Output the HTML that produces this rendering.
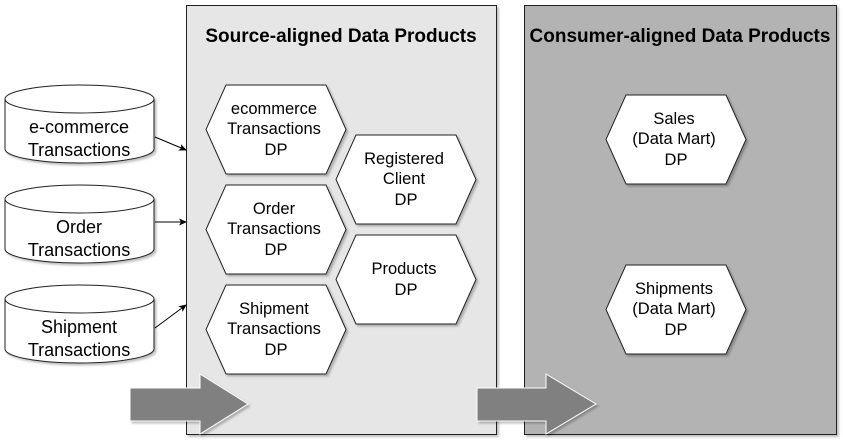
<!DOCTYPE html>
<html><head><meta charset="utf-8"><style>body{margin:0;background:#fff}</style></head><body>
<svg width="843" height="442" viewBox="0 0 843 442" xmlns="http://www.w3.org/2000/svg" font-family="Liberation Sans, sans-serif">
<defs>
<marker id="a" markerWidth="8" markerHeight="8" refX="7" refY="4" orient="auto" markerUnits="userSpaceOnUse"><path d="M0,0.5 L8,4 L0,7.5 L2,4z" fill="#000"/></marker>
<filter id="s" x="-10%" y="-10%" width="130%" height="130%"><feDropShadow dx="2" dy="2" stdDeviation="1" flood-opacity="0.25"/></filter>
</defs>
<rect x="186.5" y="5.5" width="310" height="429" fill="#e6e6e6" stroke="#222" filter="url(#s)"/>
<rect x="524.5" y="5.5" width="312" height="429" fill="#b3b3b3" stroke="#222" filter="url(#s)"/>
<text x="341" y="42" text-anchor="middle" font-size="19" font-weight="bold">Source-aligned Data Products</text>
<text x="680" y="42" text-anchor="middle" font-size="19" font-weight="bold">Consumer-aligned Data Products</text>
<g fill="#fff" stroke="#222" filter="url(#s)">
<path d="M5,99 L5,149 A74.5,14 0 0 0 154,149 L154,99 A74.5,14 0 0 0 5,99 A74.5,14 0 0 0 154,99"/>
<path d="M5,199 L5,249 A74.5,14 0 0 0 154,249 L154,199 A74.5,14 0 0 0 5,199 A74.5,14 0 0 0 154,199"/>
<path d="M5,299 L5,349 A74.5,14 0 0 0 154,349 L154,299 A74.5,14 0 0 0 5,299 A74.5,14 0 0 0 154,299"/>
<polygon points="226,85 326,85 346,129.5 326,174 226,174 206,129.5"/>
<polygon points="226,185 326,185 346,229.5 326,274 226,274 206,229.5"/>
<polygon points="226,285 326,285 346,329.5 326,374 226,374 206,329.5"/>
<polygon points="356,135 456,135 476,179.5 456,224 356,224 336,179.5"/>
<polygon points="356,235 456,235 476,279.5 456,324 356,324 336,279.5"/>
<polygon points="626,95 726,95 746,139.5 726,184 626,184 606,139.5"/>
<polygon points="626,265 726,265 746,309.5 726,354 626,354 606,309.5"/>
</g>
<g stroke="#000" fill="none">
<line x1="155" y1="137" x2="186" y2="150" marker-end="url(#a)"/>
<line x1="155" y1="222" x2="186" y2="222" marker-end="url(#a)"/>
<line x1="155" y1="328" x2="186" y2="305" marker-end="url(#a)"/>
</g>
<g fill="#808080" stroke="#fff" stroke-width="1" filter="url(#s)">
<polygon points="130,388 200,388 200,374 248,404 200,434 200,421 130,421"/>
<polygon points="477,388 546,388 546,374 596,404 546,434 546,421 477,421"/>
</g>
<g font-size="18" text-anchor="middle" fill="#000">
<text x="79" y="133">e-commerce</text><text x="79" y="156">Transactions</text>
<text x="79" y="233">Order</text><text x="79" y="256">Transactions</text>
<text x="79" y="333">Shipment</text><text x="79" y="356">Transactions</text>
</g>
<g font-size="16.5" text-anchor="middle" fill="#000">
<text x="274" y="114">ecommerce</text><text x="274" y="134">Transactions</text><text x="276" y="155">DP</text>
<text x="274" y="214">Order</text><text x="274" y="234">Transactions</text><text x="276" y="255">DP</text>
<text x="274" y="314">Shipment</text><text x="274" y="334">Transactions</text><text x="276" y="355">DP</text>
<text x="404" y="164">Registered</text><text x="404" y="184">Client</text><text x="406" y="205">DP</text>
<text x="404" y="274">Products</text><text x="406" y="295">DP</text>
<text x="674" y="124">Sales</text><text x="674" y="144">(Data Mart)</text><text x="676" y="165">DP</text>
<text x="674" y="294">Shipments</text><text x="674" y="314">(Data Mart)</text><text x="676" y="335">DP</text>
</g>
</svg>
</body></html>
